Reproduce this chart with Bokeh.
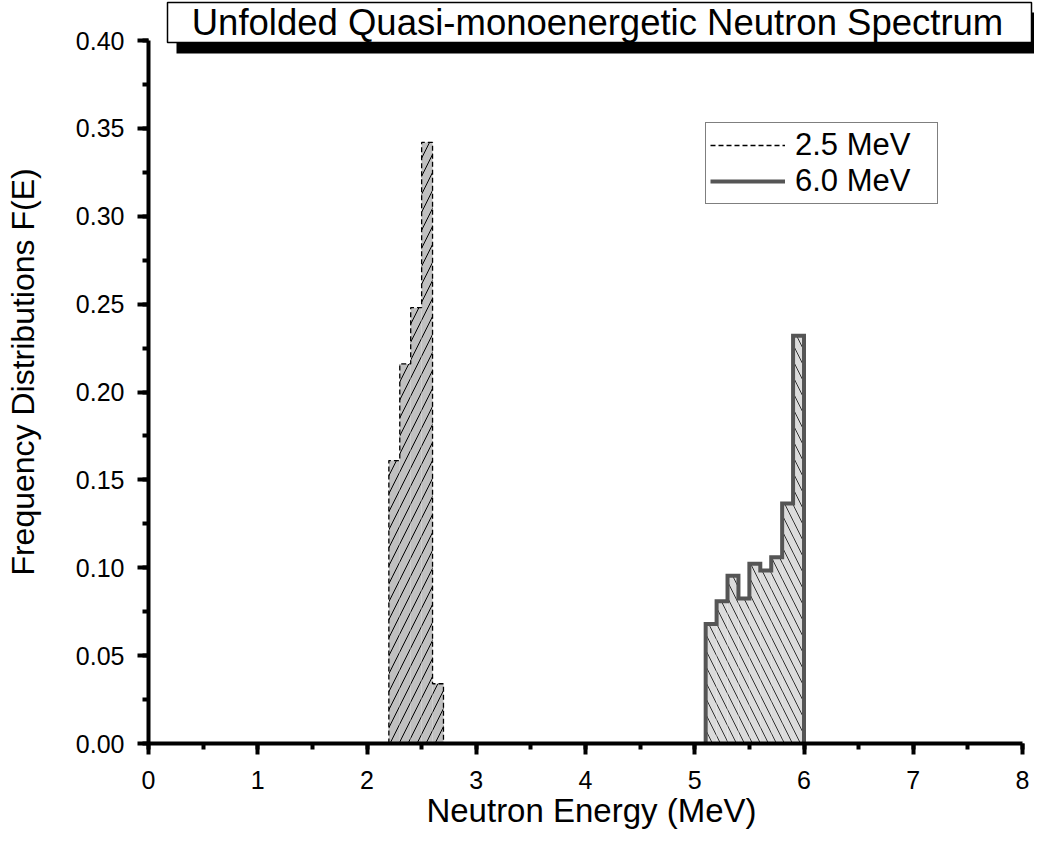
from bokeh.plotting import figure
from bokeh.models import Range1d, SingleIntervalTicker, NumeralTickFormatter, Legend, LegendItem
from bokeh.core.properties import value
from bokeh.embed import file_html
from bokeh.resources import INLINE

# ---- data ----
edges_25 = [2.2, 2.3, 2.4, 2.5, 2.6, 2.7]
vals_25 = [0.161, 0.216, 0.248, 0.342, 0.034]
edges_60 = [5.1, 5.2, 5.3, 5.4, 5.5, 5.6, 5.7, 5.8, 5.9, 6.0]
vals_60 = [0.068, 0.081, 0.0955, 0.0825, 0.1023, 0.0985, 0.106, 0.1365, 0.232]
series_names = ["2.5 MeV", "6.0 MeV"]
title_text = "Unfolded Quasi-monoenergetic Neutron Spectrum"
x_label = "Neutron Energy (MeV)"
y_label = "Frequency Distributions F(E)"

FONT = "Liberation Sans"

# ---- layout (pixels) ----
W, H = 1034, 834
FL, FR_X8, FB, FT_Y04 = 148, 1022, 743, 40      # frame left, x=8 px, y=0 px, y=0.4 px
XS = (FR_X8 - FL) / 8.0                          # px per MeV
YS = (FB - FT_Y04) / 0.4                         # px per unit


def dx(px):
    return (px - FL) / XS


def dy(py):
    return (FB - py) / YS


p = figure(width=W, height=H, output_backend="svg", toolbar_location=None,
           x_range=Range1d(0, dx(W)), y_range=Range1d(0, dy(0)),
           min_border_left=FL, min_border_right=0, min_border_top=0, min_border_bottom=H - FB)
p.outline_line_color = None
p.xgrid.visible = False
p.ygrid.visible = False
p.background_fill_color = "white"
p.border_fill_color = "white"


def outline(edges, vals):
    xs, ys = [edges[0]], [0.0]
    for i, v in enumerate(vals):
        xs += [edges[i], edges[i + 1]]
        ys += [v, v]
    xs.append(edges[-1])
    ys.append(0.0)
    return xs, ys


# bars 2.5 MeV
p.quad(left=edges_25[:-1], right=edges_25[1:], top=vals_25, bottom=0,
       fill_color="#c0c0c0", line_color=None,
       hatch_pattern="/", hatch_color="black", hatch_weight=1, hatch_scale=18)
x25, y25 = outline(edges_25, vals_25)
r25 = p.line(x25, y25, line_color="black", line_width=1.3, line_dash="5 3")

# bars 6.0 MeV
p.quad(left=edges_60[:-1], right=edges_60[1:], top=vals_60, bottom=0,
       fill_color="#dcdcdc", line_color=None,
       hatch_pattern="\\", hatch_color="#333333", hatch_weight=1, hatch_scale=16)
x60, y60 = outline(edges_60, vals_60)
r60 = p.line(x60, y60, line_color="#555555", line_width=4, line_join="miter")

# title box with shadow (decoration)
p.quad(left=[dx(176)], right=[dx(W + 5)], top=[dy(12)], bottom=[dy(53)],
       fill_color="black", line_color=None)
p.quad(left=[dx(167)], right=[dx(1031)], top=[dy(2)], bottom=[dy(42)],
       fill_color="white", line_color="black", line_width=1.5)
p.text(x=[dx(597)], y=[dy(22)], text=[title_text], text_align="center",
       text_baseline="middle", text_font=value(FONT), text_font_size="36.5px", text_color="black")

# axes
for ax in (p.xaxis[0], p.yaxis[0]):
    ax.axis_line_width = 4
    ax.axis_line_color = "black"
    ax.major_tick_line_width = 4
    ax.minor_tick_line_width = 4
    ax.major_tick_out = 11
    ax.major_tick_in = 0
    ax.minor_tick_out = 6
    ax.minor_tick_in = 0
    ax.major_label_text_font = FONT
    ax.major_label_text_font_size = "25px"
    ax.major_label_text_color = "black"
    ax.axis_label_text_font = FONT
    ax.axis_label_text_font_style = "normal"
    ax.axis_label_text_color = "black"

p.xaxis[0].axis_label_text_font_size = "33px"
p.yaxis[0].axis_label_text_font_size = "32px"
p.xaxis[0].bounds = (0, 8)
p.yaxis[0].bounds = (0, 0.4)
p.xaxis[0].ticker = SingleIntervalTicker(interval=1, num_minor_ticks=2)
p.yaxis[0].ticker = SingleIntervalTicker(interval=0.05, num_minor_ticks=2)
p.yaxis[0].formatter = NumeralTickFormatter(format="0.00")
p.xaxis[0].axis_label = x_label
p.yaxis[0].axis_label = y_label
p.xaxis[0].major_label_standoff = 16
p.yaxis[0].major_label_standoff = 13
p.xaxis[0].axis_label_standoff = 0
p.yaxis[0].axis_label_standoff = 32

legend = Legend(items=[LegendItem(label=series_names[0], renderers=[r25]),
                       LegendItem(label=series_names[1], renderers=[r60])],
                location=(705 - FL, FB - 204))
legend.glyph_width = 75
legend.glyph_height = 30
legend.label_height = 30
legend.label_width = 138
legend.label_text_font = FONT
legend.label_text_font_size = "31px"
legend.label_text_color = "black"
legend.label_standoff = 10
legend.spacing = 0
legend.padding = 4
legend.margin = 0
legend.border_line_color = "black"
legend.border_line_width = 1.5
legend.background_fill_alpha = 1
p.add_layout(legend, "center")

open("out.html", "w").write(file_html(p, INLINE))
